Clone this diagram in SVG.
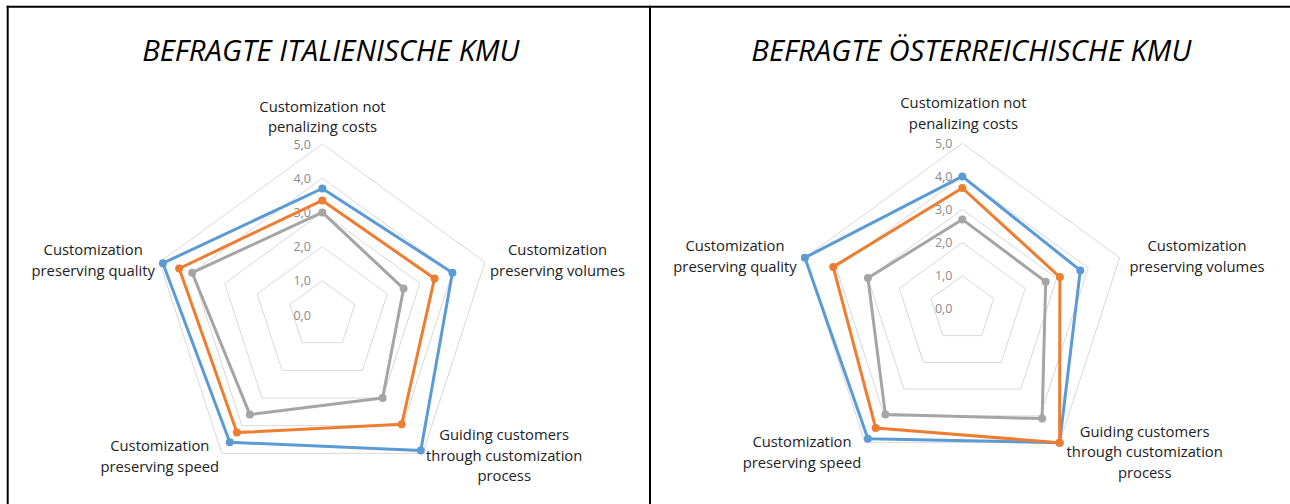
<svg xmlns="http://www.w3.org/2000/svg" width="1290" height="504" viewBox="0 0 1290 504">
<style>
.frame{stroke:#000;stroke-width:2;fill:none}
.grid{fill:none;stroke:#d9d9d9;stroke-width:1}
.s{fill:none;stroke-width:3;stroke-linejoin:round}
.b{stroke:#5b9bd5}.o{stroke:#ed7d31}.g{stroke:#a5a5a5}
.mb{fill:#5b9bd5}.mo{fill:#ed7d31}.mg{fill:#a5a5a5}
.title{font-family:"Open Sans","Liberation Sans",sans-serif;font-style:italic;font-size:29.3px;fill:#000;text-anchor:middle}
.cat{font-family:"Open Sans","Liberation Sans",sans-serif;font-size:14.8px;fill:#222;text-anchor:middle}
.ax{font-family:"Open Sans","Liberation Sans",sans-serif;font-size:12.5px;fill:#8a8a8a;text-anchor:end}
</style>
<rect width="1290" height="504" fill="#fff"/>
<g id="frame">
<line class="frame" x1="6.7" y1="6.7" x2="1290" y2="6.7"/>
<line class="frame" x1="7.7" y1="5.7" x2="7.7" y2="504"/>
<line class="frame" x1="650" y1="5.7" x2="650" y2="504"/>
</g>

<g id="chart-italy">
<text class="title" x="330.8" y="61">BEFRAGTE ITALIENISCHE KMU</text>
<g id="grid-left">
<polygon class="grid" points="322.3,280.8 354.83,304.43 342.4,342.67 302.2,342.67 289.77,304.43"/>
<polygon class="grid" points="322.3,246.6 387.36,293.86 362.5,370.34 282.1,370.34 257.24,293.86"/>
<polygon class="grid" points="322.3,212.4 419.89,283.29 382.6,398.01 262.0,398.01 224.71,283.29"/>
<polygon class="grid" points="322.3,178.2 452.42,272.72 402.7,425.68 241.9,425.68 192.18,272.72"/>
<polygon class="grid" points="322.3,144 484.95,262.15 422.8,453.35 221.8,453.35 159.65,262.15"/>
</g>
<g id="axis-left">
<text class="ax" x="311" y="319.5">0,0</text>
<text class="ax" x="311" y="285.3">1,0</text>
<text class="ax" x="311" y="251.1">2,0</text>
<text class="ax" x="311" y="216.9">3,0</text>
<text class="ax" x="311" y="182.7">4,0</text>
<text class="ax" x="311" y="148.5">5,0</text>
</g>
<g id="series-left">
<polygon class="s b" points="322.3,188.5 452.4,272.7 420.8,450.6 229.8,442.3 162.9,263.2"/>
<g class="mb"><circle cx="322.3" cy="188.5" r="4"/><circle cx="452.4" cy="272.7" r="4"/><circle cx="420.8" cy="450.6" r="4"/><circle cx="229.8" cy="442.3" r="4"/><circle cx="162.9" cy="263.2" r="4"/></g>
<polygon class="s o" points="322.3,200.4 434.5,278.5 401.7,424.3 236.9,432.6 179.2,268.5"/>
<g class="mo"><circle cx="322.3" cy="200.4" r="4"/><circle cx="434.5" cy="278.5" r="4"/><circle cx="401.7" cy="424.3" r="4"/><circle cx="236.9" cy="432.6" r="4"/><circle cx="179.2" cy="268.5" r="4"/></g>
<polygon class="s g" points="322.3,212.4 403.6,288.6 382.6,398.0 249.9,414.6 192.2,272.7"/>
<g class="mg"><circle cx="322.3" cy="212.4" r="4"/><circle cx="403.6" cy="288.6" r="4"/><circle cx="382.6" cy="398.0" r="4"/><circle cx="249.9" cy="414.6" r="4"/><circle cx="192.2" cy="272.7" r="4"/></g>
</g>
<g id="labels-left">
<text class="cat" x="322.5" y="111.5">Customization not<tspan x="322.5" dy="20.5">penalizing costs</tspan></text>
<text class="cat" x="557.6" y="254.5">Customization<tspan x="557.6" dy="21">preserving volumes</tspan></text>
<text class="cat" x="504.2" y="440">Guiding customers<tspan x="504.2" dy="20.7">through customization</tspan><tspan x="504.2" dy="20.7">process</tspan></text>
<text class="cat" x="159.8" y="451">Customization<tspan x="159.8" dy="21">preserving speed</tspan></text>
<text class="cat" x="93.2" y="254.5">Customization<tspan x="93.2" dy="21">preserving quality</tspan></text>
</g>
</g>

<g id="chart-austria">
<text class="title" x="971.3" y="61">BEFRAGTE ÖSTERREICHISCHE KMU</text>
<g id="grid-right">
<polygon class="grid" points="962.3,275.7 993.78,298.57 981.76,335.58 942.84,335.58 930.82,298.57"/>
<polygon class="grid" points="962.3,242.6 1025.26,288.34 1001.22,362.36 923.38,362.36 899.34,288.34"/>
<polygon class="grid" points="962.3,209.5 1056.74,278.11 1020.68,389.14 903.92,389.14 867.86,278.11"/>
<polygon class="grid" points="962.3,176.4 1088.22,267.88 1040.14,415.92 884.46,415.92 836.38,267.88"/>
<polygon class="grid" points="962.3,143.3 1119.7,257.65 1059.6,442.7 865.0,442.7 804.9,257.65"/>
</g>
<g id="axis-right">
<text class="ax" x="952.5" y="313.3">0,0</text>
<text class="ax" x="952.5" y="280.2">1,0</text>
<text class="ax" x="952.5" y="247.1">2,0</text>
<text class="ax" x="952.5" y="214">3,0</text>
<text class="ax" x="952.5" y="180.9">4,0</text>
<text class="ax" x="952.5" y="147.8">5,0</text>
</g>
<g id="series-right">
<polygon class="s b" points="962.3,176.4 1080.3,270.4 1059.6,442.7 867.9,438.7 804.9,257.65"/>
<g class="mb"><circle cx="962.3" cy="176.4" r="4"/><circle cx="1080.3" cy="270.4" r="4"/><circle cx="1059.6" cy="442.7" r="4"/><circle cx="867.9" cy="438.7" r="4"/><circle cx="804.9" cy="257.65" r="4"/></g>
<polygon class="s o" points="962.3,188.0 1059.9,277.1 1059.6,442.7 875.7,428.0 833.2,266.9"/>
<g class="mo"><circle cx="962.3" cy="188.0" r="4"/><circle cx="1059.9" cy="277.1" r="4"/><circle cx="1059.6" cy="442.7" r="4"/><circle cx="875.7" cy="428.0" r="4"/><circle cx="833.2" cy="266.9" r="4"/></g>
<polygon class="s g" points="962.3,219.4 1045.7,281.7 1042.1,418.6 885.4,414.6 867.9,278.1"/>
<g class="mg"><circle cx="962.3" cy="219.4" r="4"/><circle cx="1045.7" cy="281.7" r="4"/><circle cx="1042.1" cy="418.6" r="4"/><circle cx="885.4" cy="414.6" r="4"/><circle cx="867.9" cy="278.1" r="4"/></g>
</g>
<g id="labels-right">
<text class="cat" x="963.4" y="108">Customization not<tspan x="963.4" dy="20.5">penalizing costs</tspan></text>
<text class="cat" x="1197" y="251">Customization<tspan x="1197" dy="21">preserving volumes</tspan></text>
<text class="cat" x="1144.7" y="436.5">Guiding customers<tspan x="1144.7" dy="20.7">through customization</tspan><tspan x="1144.7" dy="20.7">process</tspan></text>
<text class="cat" x="802" y="446.5">Customization<tspan x="802" dy="21">preserving speed</tspan></text>
<text class="cat" x="735" y="251">Customization<tspan x="735" dy="21">preserving quality</tspan></text>
</g>
</g>
</svg>
